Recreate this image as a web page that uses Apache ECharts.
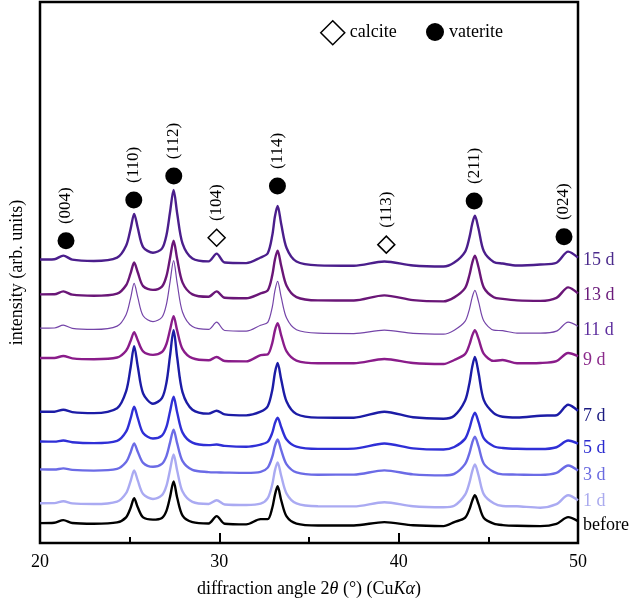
<!DOCTYPE html>
<html><head><meta charset="utf-8">
<script src="https://cdn.jsdelivr.net/npm/echarts@6.0.0/dist/echarts.min.js"></script>
<style>html,body{margin:0;padding:0;background:#fff}#c{width:630px;height:603px}</style>
</head><body><div id="c"></div>
<script>
// 2θ sample positions (degrees)
const twoTheta = [20.0, 20.8, 21.3, 21.8, 23.0, 24.3, 24.8, 25.05, 25.25, 25.45, 25.75, 26.3, 26.8, 27.05, 27.25, 27.45, 27.65, 27.95, 28.5, 29.4, 29.85, 30.3, 31.5, 32.3, 32.7, 32.95, 33.1, 33.25, 33.45, 33.75, 34.3, 35.5, 37.5, 39.2, 40.8, 42.5, 43.1, 43.7, 43.95, 44.1, 44.25, 44.45, 44.75, 45.3, 45.8, 46.6, 47.9, 48.8, 49.45, 50.0];

// stacked intensities (arb. units)
const int15d = [285, 285.3, 289, 284.9, 283.6, 286.9, 298.8, 315.6, 331, 317, 297.6, 291.9, 296, 309.4, 332.6, 355, 331.4, 301.1, 286.1, 283.2, 291, 282, 281.4, 287.1, 291.4, 309.1, 328.3, 339, 320.8, 296.7, 283.1, 279.2, 278.8, 283, 279, 278, 282, 292.8, 307.6, 320.8, 329, 316.3, 293.3, 282.6, 281, 279, 280, 281.8, 293, 287];
const int13d = [250, 250.1, 253, 249.7, 248.6, 250.8, 259.2, 271.1, 282, 272.2, 258.3, 254.5, 257.8, 268.3, 286.4, 304, 285.5, 261.8, 250, 247.6, 253, 246.6, 246.1, 251, 254.1, 269.1, 285.1, 294, 278.8, 258.7, 247.3, 244, 243.9, 249, 244.2, 243, 247, 256.3, 269.7, 281.6, 289, 277.5, 256.8, 247.1, 245.5, 244, 243.5, 246.5, 257, 251];
const int11d = [216, 216.2, 219, 215.8, 214.8, 218.1, 229.6, 246, 261, 247.2, 228.5, 222.6, 227, 240, 262.3, 284, 261.2, 232, 217.6, 214.8, 222, 213.7, 213, 219, 221.8, 237, 253.7, 263, 247.2, 226.2, 214.5, 211, 210.6, 214, 210.8, 210, 214, 222.8, 235.5, 247, 254, 243, 223.2, 214, 213.5, 211, 211, 213, 222, 218];
const int9d = [186, 186.1, 188, 185.7, 184.8, 186.5, 193.4, 203.1, 212, 203.8, 192.7, 189.2, 192, 200.1, 214.3, 228, 213.5, 195, 185.8, 183.7, 187, 183, 182.6, 189, 189.7, 201, 213.8, 221, 208.8, 192.6, 183.5, 180.8, 180.8, 185, 181, 180, 184, 189.9, 199.7, 208.6, 214, 205.5, 190.2, 183.1, 184, 180.7, 181, 182.8, 191, 188];
const int7d = [132, 132, 134, 131.6, 130.6, 135.5, 152.4, 176.2, 198, 177.8, 150.4, 140, 145.7, 161.2, 188.1, 214, 186.5, 151.4, 134, 130.1, 133, 129.3, 128.3, 132, 137.5, 153.6, 171.2, 181, 164.3, 142.2, 129.7, 126.1, 126, 132, 126.4, 125, 128, 143, 161, 177.1, 187, 171.5, 143.6, 130.6, 127, 126.2, 128, 128.5, 139, 133];
const int5d = [102, 101.9, 103, 101.3, 100.4, 102.7, 111.9, 125, 137, 125.8, 110.6, 105.1, 108, 116.7, 132.2, 147, 131.2, 111, 100.9, 98.4, 99, 97.7, 96.8, 99, 101.8, 110.7, 120.5, 126, 116.6, 104, 96.9, 94.6, 94.9, 100, 95.2, 94, 96.5, 104.7, 115.5, 125.1, 131, 121.8, 105.1, 97.3, 95.5, 94.7, 94.5, 96.3, 103, 100];
const int3d = [74, 73.9, 75, 73.5, 72.8, 74.5, 81.4, 91.1, 100, 91.8, 80.6, 76.6, 79.6, 87.4, 100.9, 114, 100.1, 82.4, 73.6, 71.3, 71, 70.8, 70.5, 71.5, 75.8, 86.5, 97.7, 104, 93.3, 79.1, 71.1, 68.7, 68.8, 73, 69, 68, 69.5, 79.3, 90.6, 100.8, 107, 97.3, 79.7, 71.5, 69, 68.8, 68.5, 70.5, 78, 73];
const int1d = [40, 40.1, 42, 39.8, 39.2, 41.7, 50.1, 62.1, 73, 62.9, 49.3, 44.3, 48.1, 57.4, 73.5, 89, 72.7, 51.7, 41.3, 39.2, 43, 38.7, 38.2, 39.5, 45.1, 58.8, 73, 81, 67.6, 49.7, 39.8, 36.9, 36.8, 41, 37, 36, 37.5, 48.5, 60.9, 72.1, 79, 68.3, 48.9, 39.9, 37.2, 36.9, 35.5, 39, 48, 43];
const intBefore = [20, 20.3, 23, 20.1, 19.4, 20.7, 25.8, 35.2, 45, 35.9, 25.7, 23.5, 25.2, 32.3, 46.1, 62, 45.5, 27.5, 20.9, 19.6, 27, 19.4, 18.7, 24, 24, 35.2, 48.3, 57, 43, 26.7, 19.5, 17.6, 17.6, 21, 17.8, 17, 21, 25.4, 34.1, 42.4, 48, 39.3, 25.1, 19.5, 18, 17.3, 17, 19.3, 26, 22];

const traceNames = ['15 d', '13 d', '11 d', '9 d', '7 d', '5 d', '3 d', '1 d', 'before'];
const traceValues = [int15d, int13d, int11d, int9d, int7d, int5d, int3d, int1d, intBefore];

// phase markers: [2θ, height] and Miller indices
const vateritePos = [[21.45, 304], [25.23, 345], [27.46, 369], [33.24, 359], [44.21, 344], [49.22, 308]];
const vateriteHkl = ['(004)', '(110)', '(112)', '(114)', '(211)', '(024)'];
const calcitePos = [[29.85, 307], [39.31, 300]];
const calciteHkl = ['(104)', '(113)'];

// styles
const lineColors = ['#4b1e8c', '#6a1677', '#7444a8', '#8a1c8a', '#1c1ca6', '#2f2fd6', '#6b6be6', '#aaaaf2', '#000000'];
const labelColors = ['#4b2a8c', '#6a1a7a', '#5e2e9e', '#8b2a8b', '#1a1a80', '#2a2ad0', '#6a6ae0', '#aaaaee', '#000000'];
const lineWidths = [2.4, 2.4, 1.2, 2.4, 2.4, 2.4, 2.4, 2.4, 2.4];
const labelDy = [3, 2, 4, 4, 6, 5, 5, 1, 4];

const FONT = 'Liberation Serif';
const chart = echarts.init(document.getElementById('c'), null, {renderer: 'canvas'});

const series = traceNames.map((name, k) => ({
  name: name,
  type: 'line',
  data: twoTheta.map((x, i) => [x, traceValues[k][i]]),
  showSymbol: false,
  symbol: 'none',
  smooth: 0.3,
  lineStyle: {color: lineColors[k], width: lineWidths[k]},
  z: 2 + k,
  endLabel: {
    show: true,
    formatter: name,
    color: labelColors[k],
    fontSize: 18,
    fontFamily: FONT,
    distance: 5,
    offset: [0, labelDy[k]]
  }
}));

const markLabel = {
  show: true,
  formatter: '{b}',
  position: 'inside',
  rotate: 90,
  offset: [35, 0],
  fontSize: 17,
  fontFamily: FONT,
  color: '#000'
};

series.push({
  name: 'vaterite',
  type: 'scatter',
  symbol: 'circle',
  symbolSize: 17,
  itemStyle: {color: '#000', opacity: 1},
  data: vateritePos.map((p, i) => ({value: p, name: vateriteHkl[i]})),
  label: markLabel,
  z: 20
});
series.push({
  name: 'calcite',
  type: 'scatter',
  symbol: 'diamond',
  symbolSize: 17,
  itemStyle: {color: '#fff', borderColor: '#000', borderWidth: 1.5, opacity: 1},
  data: calcitePos.map((p, i) => ({value: p, name: calciteHkl[i]})),
  label: markLabel,
  z: 20
});

chart.setOption({
  animation: false,
  backgroundColor: '#fff',
  grid: {left: 39, right: 52, top: 2, bottom: 57, show: true, borderColor: '#000', borderWidth: 2.5, backgroundColor: 'transparent'},
  legend: [
    {data: [{name: 'calcite', icon: 'diamond', itemStyle: {color: '#fff', borderColor: '#000', borderWidth: 1.5, opacity: 1}}],
     left: 315, top: 15, itemWidth: 24, itemHeight: 24, textStyle: {fontSize: 18, fontFamily: FONT, color: '#000'}, selectedMode: false},
    {data: [{name: 'vaterite', icon: 'circle', itemStyle: {color: '#000', opacity: 1}}],
     left: 421, top: 18, itemWidth: 18, itemHeight: 18, textStyle: {fontSize: 18, fontFamily: FONT, color: '#000'}, selectedMode: false}
  ],
  xAxis: {
    type: 'value', min: 20, max: 50, interval: 10,
    name: 'diffraction angle 2{i|θ} (°) (Cu{i|K}{i|α})',
    nameLocation: 'middle', nameGap: 37,
    nameTextStyle: {fontSize: 18, fontFamily: FONT, color: '#000', rich: {i: {fontStyle: 'italic', fontSize: 18, fontFamily: FONT, color: '#000'}}},
    axisLine: {show: false},
    axisTick: {show: true, inside: true, length: 10, lineStyle: {color: '#000', width: 2}},
    minorTick: {show: true, splitNumber: 2, length: 6, lineStyle: {color: '#000', width: 2}},
    axisLabel: {fontSize: 18, fontFamily: FONT, color: '#000', margin: 10},
    splitLine: {show: false}, minorSplitLine: {show: false}
  },
  yAxis: {
    type: 'value', min: 0, max: 544,
    name: 'intensity (arb. units)', nameLocation: 'middle', nameGap: 14,
    nameTextStyle: {fontSize: 18, fontFamily: FONT, color: '#000'},
    axisLine: {show: false}, axisTick: {show: false}, axisLabel: {show: false}, splitLine: {show: false}
  },
  series: series
});
</script></body></html>
